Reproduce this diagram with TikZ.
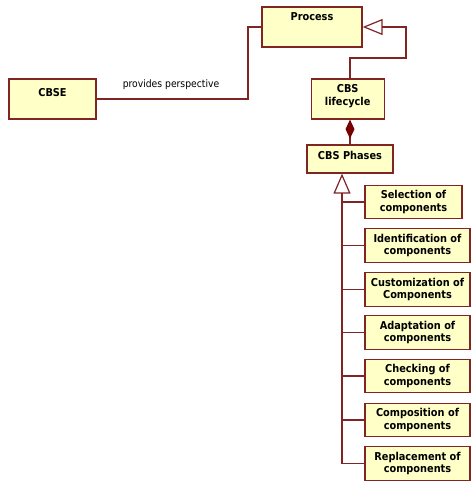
\documentclass[tikz,border=0pt]{standalone}
\usepackage{fontspec}
\setmainfont{DejaVu Sans}
\newfontfamily\boxfont{DejaVu Sans Condensed}
\usetikzlibrary{arrows.meta}
\definecolor{umlline}{RGB}{128,36,36}
\definecolor{umlfill}{RGB}{255,255,200}
\definecolor{umldiamond}{RGB}{120,0,0}
\begin{document}
\begin{tikzpicture}[x=1bp,y=-1bp,
  umlbox/.style={draw=umlline, fill=umlfill, line width=1.3bp, inner sep=0pt,
    align=center, font=\boxfont\bfseries\fontsize{10.9}{12.8}\selectfont},
  phasebox/.style={umlbox, minimum width=105bp, minimum height=33.5bp},
  link/.style={draw=umlline, line width=1.2bp},
  gen/.style={link, -{Triangle[open, length=20bp, width=16bp]}},
  comp/.style={link, {Diamond[length=19bp, width=9bp, fill=umldiamond, color=umldiamond]}-},
  lbl/.style={font=\boxfont\fontsize{10.3}{12}\selectfont, inner sep=0pt}]
\useasboundingbox (0,0) rectangle (471,481);

% classes
\node[umlbox, minimum width=100bp, text height=14bp, text depth=26bp] (proc) at (312,27) {Process};
\node[umlbox, minimum width=87bp, text height=17.5bp, text depth=22.5bp] (cbse) at (52.5,99) {CBSE};
\node[umlbox, minimum width=73bp, text height=14bp, text depth=26bp] (lc) at (347.7,99)
  {\begin{tabular}[t]{@{}c@{}}CBS\\lifecycle\end{tabular}};
\node[umlbox, minimum width=86bp, text height=14.3bp, text depth=13.7bp] (phases) at (350,159) {CBS Phases};

% phase classes
\node[phasebox, minimum width=97bp] (sel) at (413.5,202) {Selection of\\components};
\node[phasebox] (ident) at (417.5,245.5) {Identification of\\components};
\node[phasebox] (cust) at (417.5,289.5) {Customization of\\Components};
\node[phasebox] (adapt) at (417.5,332.5) {Adaptation of\\components};
\node[phasebox] (check) at (417.5,376) {Checking of\\components};
\node[phasebox] (compo) at (417.5,420) {Composition of\\components};
\node[phasebox] (repl) at (417.5,463.5) {Replacement of\\components};

% association CBSE -- Process
\coordinate (bend) at (248,60);
\draw[link] (cbse.east) -| (bend) |- (proc.west);
\node[lbl] (pp) at (171,85) {provides perspective};

% generalization CBS lifecycle -> Process
\coordinate (loop) at (406,58);
\draw[gen] (lc.north -| phases.north) |- (loop) |- (proc.east);

% composition CBS lifecycle <>-- CBS Phases
\draw[comp] (lc.south -| phases.north) -- (phases.north);

% generalization tree of the phases
\coordinate (trunk) at ([xshift=-8bp]phases.south);
\draw[gen, -{Triangle[open, length=20bp, width=17bp]}] (repl.west) -| (trunk);
\foreach \n in {sel,ident,cust,adapt,check,compo}
  \draw[link] (\n.west) -- (\n.west -| trunk);
\end{tikzpicture}
\end{document}
